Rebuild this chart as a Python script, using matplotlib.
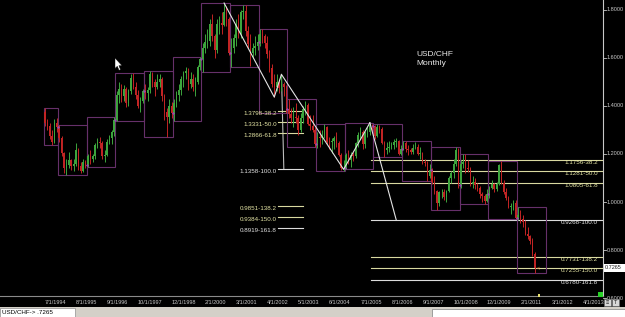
import matplotlib
matplotlib.use('Agg')
import matplotlib.pyplot as plt
from matplotlib.patches import Rectangle, Polygon
from matplotlib.transforms import blended_transform_factory
import numpy as np
import pandas as pd

plt.rcParams['font.family'] = ['Liberation Sans', 'DejaVu Sans']

# USD/CHF monthly bars, Jul 1994 .. Aug 2011 (open of a bar = previous close)
start_month = '1994-07'
first_open = 1.375
high = [
    1.391, 1.345, 1.330, 1.300, 1.345, 1.350,                                      # 1994
    1.320, 1.275, 1.210, 1.180, 1.210, 1.180, 1.180, 1.245, 1.225, 1.165, 1.180, 1.175,  # 1995
    1.200, 1.215, 1.200, 1.245, 1.265, 1.270, 1.255, 1.215, 1.260, 1.280, 1.300, 1.353,  # 1996
    1.460, 1.500, 1.490, 1.485, 1.480, 1.470, 1.530, 1.536, 1.500, 1.465, 1.435, 1.470,  # 1997
    1.490, 1.480, 1.545, 1.540, 1.510, 1.530, 1.530, 1.520, 1.450, 1.390, 1.430, 1.415,  # 1998
    1.430, 1.460, 1.490, 1.525, 1.545, 1.560, 1.555, 1.540, 1.530, 1.520, 1.570, 1.603,  # 1999
    1.660, 1.700, 1.720, 1.760, 1.780, 1.700, 1.760, 1.775, 1.790, 1.827, 1.815, 1.770,  # 2000
    1.680, 1.700, 1.760, 1.780, 1.800, 1.819, 1.819, 1.730, 1.700, 1.660, 1.690, 1.700,  # 2001
    1.719, 1.719, 1.700, 1.690, 1.630, 1.575, 1.530, 1.530, 1.510, 1.5304, 1.500, 1.485,  # 2002
    1.428, 1.390, 1.395, 1.410, 1.360, 1.370, 1.400, 1.420, 1.410, 1.360, 1.360, 1.310,  # 2003
    1.290, 1.300, 1.300, 1.324, 1.315, 1.270, 1.265, 1.275, 1.290, 1.255, 1.205, 1.175,  # 2004
    1.205, 1.215, 1.210, 1.210, 1.250, 1.290, 1.310, 1.300, 1.295, 1.310, 1.328, 1.325,  # 2005
    1.320, 1.324, 1.320, 1.310, 1.255, 1.250, 1.255, 1.250, 1.260, 1.265, 1.258, 1.235,  # 2006
    1.253, 1.255, 1.235, 1.225, 1.240, 1.250, 1.240, 1.230, 1.210, 1.180, 1.170, 1.160,  # 2007
    1.140, 1.110, 1.050, 1.045, 1.055, 1.055, 1.050, 1.110, 1.130, 1.180, 1.229, 1.225,  # 2008
    1.175, 1.199, 1.199, 1.175, 1.145, 1.110, 1.100, 1.080, 1.065, 1.040, 1.035, 1.055,  # 2009
    1.065, 1.090, 1.080, 1.085, 1.160, 1.171, 1.090, 1.060, 1.025, 0.995, 1.010, 1.010,  # 2010
    0.979, 0.965, 0.945, 0.925, 0.895, 0.865, 0.850, 0.792,                          # 2011
]
low = [
    1.318, 1.300, 1.262, 1.237, 1.245, 1.290,
    1.250, 1.190, 1.120, 1.112, 1.140, 1.135, 1.130, 1.150, 1.135, 1.120, 1.125, 1.140,
    1.146, 1.160, 1.165, 1.180, 1.225, 1.225, 1.180, 1.165, 1.190, 1.240, 1.240, 1.275,
    1.337, 1.410, 1.415, 1.420, 1.395, 1.400, 1.450, 1.470, 1.430, 1.390, 1.375, 1.410,
    1.430, 1.420, 1.455, 1.480, 1.440, 1.470, 1.480, 1.420, 1.340, 1.270, 1.330, 1.350,
    1.337, 1.395, 1.420, 1.445, 1.480, 1.510, 1.465, 1.475, 1.460, 1.440, 1.490, 1.550,
    1.542, 1.620, 1.640, 1.650, 1.670, 1.600, 1.620, 1.700, 1.700, 1.730, 1.730, 1.610,
    1.561, 1.620, 1.650, 1.680, 1.680, 1.760, 1.690, 1.640, 1.565, 1.600, 1.610, 1.630,
    1.650, 1.660, 1.640, 1.600, 1.540, 1.480, 1.436, 1.460, 1.455, 1.460, 1.440, 1.370,
    1.350, 1.330, 1.310, 1.330, 1.280, 1.290, 1.330, 1.360, 1.320, 1.300, 1.290, 1.229,
    1.225, 1.230, 1.240, 1.265, 1.240, 1.220, 1.205, 1.220, 1.230, 1.190, 1.135, 1.129,
    1.137, 1.160, 1.145, 1.170, 1.185, 1.230, 1.260, 1.220, 1.225, 1.270, 1.280, 1.285,
    1.260, 1.270, 1.285, 1.240, 1.187, 1.200, 1.210, 1.220, 1.220, 1.230, 1.195, 1.195,
    1.215, 1.210, 1.195, 1.200, 1.200, 1.220, 1.195, 1.180, 1.160, 1.150, 1.087, 1.100,
    1.075, 1.035, 0.967, 0.985, 1.015, 1.010, 1.000, 1.040, 1.080, 1.100, 1.150, 1.060,
    1.060, 1.140, 1.120, 1.125, 1.065, 1.060, 1.055, 1.045, 1.015, 1.002, 0.992, 1.000,
    1.015, 1.055, 1.040, 1.045, 1.070, 1.075, 1.035, 1.010, 0.975, 0.950, 0.965, 0.930,
    0.925, 0.915, 0.895, 0.865, 0.845, 0.825, 0.775, 0.7067,
]
close = [
    1.330, 1.318, 1.275, 1.250, 1.330, 1.310,
    1.268, 1.205, 1.140, 1.155, 1.175, 1.150, 1.160, 1.215, 1.150, 1.128, 1.168, 1.152,
    1.190, 1.180, 1.190, 1.235, 1.250, 1.245, 1.190, 1.195, 1.250, 1.265, 1.290, 1.340,
    1.445, 1.470, 1.440, 1.470, 1.410, 1.460, 1.515, 1.480, 1.445, 1.400, 1.420, 1.460,
    1.455, 1.465, 1.530, 1.500, 1.480, 1.500, 1.510, 1.440, 1.375, 1.355, 1.400, 1.370,
    1.410, 1.445, 1.465, 1.510, 1.535, 1.545, 1.490, 1.510, 1.480, 1.500, 1.560, 1.595,
    1.640, 1.665, 1.670, 1.740, 1.690, 1.630, 1.740, 1.745, 1.735, 1.790, 1.760, 1.620,
    1.640, 1.680, 1.740, 1.700, 1.790, 1.795, 1.710, 1.655, 1.620, 1.640, 1.650, 1.665,
    1.700, 1.690, 1.660, 1.615, 1.555, 1.490, 1.480, 1.500, 1.475, 1.490, 1.480, 1.385,
    1.365, 1.350, 1.355, 1.350, 1.300, 1.350, 1.385, 1.405, 1.325, 1.315, 1.300, 1.240,
    1.270, 1.265, 1.275, 1.310, 1.250, 1.248, 1.255, 1.265, 1.245, 1.195, 1.140, 1.142,
    1.195, 1.175, 1.195, 1.190, 1.245, 1.280, 1.290, 1.240, 1.290, 1.292, 1.320, 1.315,
    1.275, 1.310, 1.305, 1.245, 1.215, 1.225, 1.230, 1.235, 1.250, 1.252, 1.200, 1.220,
    1.245, 1.220, 1.215, 1.210, 1.225, 1.230, 1.200, 1.205, 1.165, 1.163, 1.110, 1.135,
    1.085, 1.045, 0.995, 1.040, 1.042, 1.020, 1.045, 1.100, 1.120, 1.160, 1.215, 1.070,
    1.160, 1.165, 1.140, 1.138, 1.075, 1.085, 1.070, 1.060, 1.035, 1.025, 1.005, 1.035,
    1.060, 1.075, 1.055, 1.075, 1.155, 1.080, 1.040, 1.015, 0.980, 0.985, 0.995, 0.935,
    0.945, 0.930, 0.918, 0.868, 0.860, 0.840, 0.785, 0.7265,
]

# fibonacci tool levels
fib_ratios = ['38.2', '50.0', '61.8', '100.0', '138.2', '150.0', '161.8']
fib1_values = [1.3798, 1.3331, 1.2866, 1.1358, 0.9851, 0.9384, 0.8919]
fib2_values = [1.1756, 1.1281, 1.0805, 0.9268, 0.7731, 0.7255, 0.6780]

# swing trend line and the two fib legs
trend_dates = ['2000-10', '2002-07', '2002-10', '2004-12', '2005-11']
trend_values = [1.827, 1.436, 1.5304, 1.1358, 1.3294]
fib1_leg_dates = ['2002-10', '2002-11']
fib1_leg_values = [1.5304, 1.1358]
fib2_leg_dates = ['2005-11', '2006-10']
fib2_leg_values = [1.3294, 0.9268]

date_ticks = ['7/1/1994', '8/1/1995', '9/1/1996', '10/1/1997', '12/1/1998', '2/1/2000',
              '3/1/2001', '4/1/2002', '5/1/2003', '6/1/2004', '7/1/2005', '8/1/2006',
              '9/1/2007', '10/1/2008', '12/1/2009', '2/1/2011', '3/1/2012', '4/1/2013']
price_ticks = [0.6, 0.8, 1.0, 1.2, 1.4, 1.6, 1.8]
last_price = 0.7265

GREEN = '#3da53d'
RED = '#c22424'
BOX = '#66306a'
KHAKI = '#d8d8a0'
PALE = '#dcdcdc'
AXC = '#c8c8c8'


def midx(p):
    t = pd.Timestamp(p)
    return (t.year - 1994) * 12 + t.month - 1


def fx(px):
    return px / 625


def fy(py):
    return 1 - py / 317


fig = plt.figure(figsize=(6.25, 3.17), dpi=100, facecolor='black')
ax = fig.add_axes([0, fy(296), fx(603), 296 / 317])
ax.set_facecolor('black')

# candles
c = np.array(close)
h = np.array(high)
l = np.array(low)
o = np.concatenate([[first_open], c[:-1]])
x = np.arange(len(c)) + midx(start_month)
cols = np.where(c >= o, GREEN, RED)
ax.vlines(x, l, h, colors=cols, lw=0.7, zorder=3)
ax.bar(x, np.abs(c - o), bottom=np.minimum(o, c), width=0.6, color=cols, lw=0, zorder=3)

# yearly high/low boxes
years = x // 12 + 1994
for yr in np.unique(years):
    sel = years == yr
    left = x[sel][0] - 0.5
    right = (yr - 1994) * 12 + 11.5
    lo, hi = l[sel].min(), h[sel].max()
    ax.add_patch(Rectangle((left, lo), right - left, hi - lo, fill=False, ec=BOX, lw=0.8, zorder=2))
    if x[sel][0] != x[0]:
        ax.plot(left, o[sel][0], 'D', ms=1.5, color='#9a48b0', mec='none', zorder=4)

# trend line and fib legs
ax.plot([midx(d) for d in trend_dates], trend_values, color='#e4e4e4', lw=0.8, zorder=5)
ax.plot([midx(d) for d in fib1_leg_dates], fib1_leg_values, color='#bdbdbd', lw=0.8, zorder=1)
ax.plot([midx(d) for d in fib2_leg_dates], fib2_leg_values, color='#e4e4e4', lw=0.8, zorder=5)

# fib levels
f1 = midx(fib1_leg_dates[0])
f2 = midx(fib2_leg_dates[0])
for v1, v2, r in zip(fib1_values, fib2_values, fib_ratios):
    lc = PALE if r in ('100.0', '161.8') else KHAKI
    tc = '#e4e4e4' if r in ('100.0', '161.8') else '#e6e6a6'
    ax.plot([f1 - 1.4, f1 + 9], [v1, v1], color=lc, lw=0.8, zorder=1)
    ax.text(f1 - 2.0, v1, f'{v1:.4f}-{r}', color=tc, fontsize=4.5, ha='right', va='top')
    ax.plot([f2 + 0.5, 240], [v2, v2], color=lc, lw=0.8, zorder=1)
    ax.text(237.4, v2, f'{v2:.4f}-{r}', color=tc, fontsize=4.5, ha='right', va='top')

ax.text(x[-1] + 0.7, last_price, '<', color='#e07020', fontsize=4, ha='left', va='center', zorder=6)

ax.set_xlim(-12.76, 239.54)
ax.set_ylim(1.8 - (296 - 9.5) / 240.7, 1.8 + 9.5 / 240.7)
ax.set_xticks([])
ax.set_yticks([])
for s in ['top', 'left']:
    ax.spines[s].set_visible(False)
ax.spines['right'].set_color(AXC)
ax.spines['right'].set_linewidth(0.8)
ax.spines['bottom'].set_color('#8a8a8a')
ax.spines['bottom'].set_linewidth(0.8)

# right price scale
bt = blended_transform_factory(ax.transAxes, ax.transData)
for v in price_ticks:
    ax.plot([1.0, 1.005], [v, v], transform=bt, color=AXC, lw=0.6, clip_on=False)
    ax.text(1.0065, v, f'{v:.4f}', transform=bt, color=AXC, fontsize=4,
            ha='left', va='center', clip_on=False)

# date labels
bx = blended_transform_factory(ax.transData, fig.transFigure)
for s in date_ticks:
    ax.text(midx(s), fy(302), s, transform=bx, color=AXC, fontsize=4,
            ha='left', va='center', clip_on=False)

fig.add_artist(Rectangle((fx(538), fy(297)), fx(2), 3 / 317, transform=fig.transFigure,
                         color='#e8e070', lw=0))

# title text
fig.text(fx(416), fy(55), 'USD/CHF', color='#e8e8e8', fontsize=6, ha='left', va='center')
fig.text(fx(416), fy(63.5), 'Monthly', color='#e8e8e8', fontsize=6, ha='left', va='center')

# last price box, green marker and small buttons
fig.add_artist(Rectangle((fx(604), fy(271.5)), fx(21), 7.5 / 317, transform=fig.transFigure,
                         fc='white', ec='none'))
fig.text(fx(605), fy(267.8), f'{last_price:.4f}', color='#202020', fontsize=4, ha='left', va='center')
fig.add_artist(Rectangle((fx(598), fy(297)), fx(5), 5 / 317, transform=fig.transFigure,
                         fc='#28d028', ec='none'))
for bx0, sym in [(603.5, '\u2261'), (611.5, 'T')]:
    fig.add_artist(Rectangle((fx(bx0), fy(306)), fx(7.5), 7 / 317, transform=fig.transFigure,
                             fc='#d8d8d8', ec='#707070', lw=0.4))
    fig.text(fx(bx0 + 3.75), fy(302.5), sym, color='#202020', fontsize=4, ha='center', va='center')

# status bar
fig.add_artist(Rectangle((0, 0), 1, 10 / 317, transform=fig.transFigure, fc='#d4d0c8', ec='none'))
fig.add_artist(Rectangle((0, 0), fx(75), 9 / 317, transform=fig.transFigure,
                         fc='white', ec='#909090', lw=0.5))
fig.add_artist(Rectangle((fx(432), 0), fx(193), 8 / 317, transform=fig.transFigure,
                         fc='white', ec='#808080', lw=0.5))
fig.text(fx(2), fy(312.5), 'USD/CHF-> .7265', color='black', fontsize=4.5, ha='left', va='center')

# mouse pointer
pts = [(115, 58), (115, 68.5), (117.3, 66.3), (119, 70.3), (120.6, 69.6), (118.9, 65.7), (122, 65.6)]
fig.add_artist(Polygon([(fx(a), fy(b)) for a, b in pts], closed=True, transform=fig.transFigure,
                       fc='white', ec='black', lw=0.3))

fig.savefig('out.png', dpi=100, facecolor='black')
